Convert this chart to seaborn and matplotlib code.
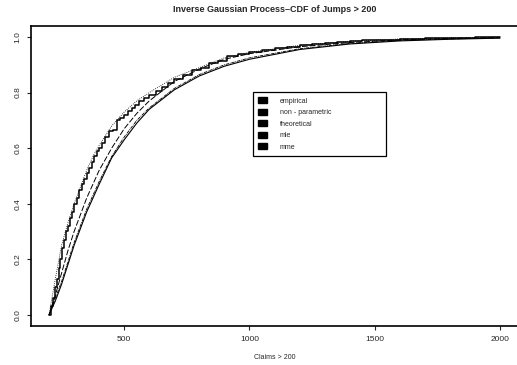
import numpy as np
import pandas as pd
import matplotlib
matplotlib.use("Agg")
import matplotlib.pyplot as plt
import seaborn as sns
from matplotlib.patches import Patch

# empirical CDF of claims > 200 (step function)
emp_x = [200, 208, 215, 223, 230, 238, 245, 252, 260, 268, 275, 283, 290, 300, 310, 320,
         330, 340, 350, 360, 370, 380, 390, 400, 410, 425, 440, 455, 470, 485, 500, 515,
         530, 545, 560, 580, 600, 625, 650, 675, 700, 735, 770, 805, 840, 875, 910, 955,
         1000, 1050, 1100, 1150, 1200, 1250, 1300, 1350, 1400, 1450, 1500, 1600, 1700,
         1800, 1900, 2000]
emp_y = [0.0, 0.03, 0.06, 0.10, 0.13, 0.17, 0.20, 0.24, 0.27, 0.30, 0.32, 0.35, 0.37, 0.40, 0.42, 0.45,
         0.47, 0.49, 0.51, 0.53, 0.55, 0.57, 0.59, 0.60, 0.62, 0.64, 0.66, 0.665, 0.70, 0.71, 0.72, 0.735,
         0.745, 0.755, 0.77, 0.78, 0.79, 0.805, 0.82, 0.835, 0.85, 0.865, 0.88, 0.89, 0.905, 0.915, 0.93, 0.938,
         0.945, 0.952, 0.96, 0.965, 0.97, 0.974, 0.978, 0.982, 0.985, 0.988, 0.99, 0.993, 0.996,
         0.998, 0.999, 1.0]

# smooth curves
grid_x = [200, 225, 250, 275, 300, 325, 350, 375, 400, 450, 500, 550, 600, 700, 800, 900,
          1000, 1200, 1400, 1600, 1800, 2000]
nonpar_y = [0.0, 0.13, 0.25, 0.33, 0.40, 0.46, 0.52, 0.57, 0.61, 0.68, 0.73, 0.77, 0.80, 0.855, 0.89, 0.925,
            0.945, 0.97, 0.985, 0.993, 0.997, 1.0]
theo_y = [0.0, 0.07, 0.15, 0.23, 0.30, 0.36, 0.42, 0.47, 0.52, 0.60, 0.67, 0.725, 0.77, 0.84, 0.885, 0.92,
          0.94, 0.965, 0.98, 0.99, 0.995, 0.998]
mle_y = [0.0, 0.05, 0.11, 0.18, 0.25, 0.31, 0.37, 0.42, 0.47, 0.565, 0.63, 0.69, 0.74, 0.81, 0.86, 0.895,
         0.92, 0.955, 0.975, 0.986, 0.992, 0.996]
mme_y = [0.0, 0.06, 0.12, 0.19, 0.26, 0.32, 0.38, 0.43, 0.48, 0.57, 0.64, 0.70, 0.745, 0.815, 0.865, 0.90,
         0.925, 0.958, 0.977, 0.988, 0.993, 0.997]

legend_labels = ["empirical", "non - parametric", "theoretical", "mle", "mme"]

sns.set_style("ticks")
plt.rcParams['font.family'] = ['Liberation Sans', 'DejaVu Sans']

fig = plt.figure(figsize=(5.17, 3.65), dpi=100)
ax = fig.add_axes([0.060, 0.107, 0.942, 0.822])

sns.lineplot(x=emp_x, y=emp_y, ax=ax, color="black", lw=1.1, drawstyle="steps-post")
sns.lineplot(x=grid_x, y=nonpar_y, ax=ax, color="black", lw=0.6, linestyle=(0, (1, 1.5)))
sns.lineplot(x=grid_x, y=theo_y, ax=ax, color="black", lw=0.7, linestyle=(0, (6, 2)))
sns.lineplot(x=grid_x, y=mle_y, ax=ax, color="black", lw=0.8)
sns.lineplot(x=grid_x, y=mme_y, ax=ax, color="black", lw=0.6, linestyle=(0, (4, 1, 1, 1)))

ax.set_xlim(128, 2072)
ax.set_ylim(-0.04, 1.04)
ax.set_xticks([500, 1000, 1500, 2000])
ax.set_yticks([0.0, 0.2, 0.4, 0.6, 0.8, 1.0])
ax.set_yticklabels(["0.0", "0.2", "0.4", "0.6", "0.8", "1.0"], rotation=90, va="center")
ax.tick_params(labelsize=6, length=3, width=0.8, pad=4)
for sp in ax.spines.values():
    sp.set_visible(True)
    sp.set_linewidth(1.2)
    sp.set_color("black")

ax.set_xlabel("Claims > 200", fontsize=5, labelpad=8)
ax.set_ylabel("")
ax.set_title("Inverse Gaussian Process\u2013CDF of Jumps > 200", fontsize=6.5,
             fontweight="bold", pad=10)

handles = [Patch(facecolor="black", edgecolor="black") for _ in legend_labels]
leg = ax.legend(handles, legend_labels, loc="upper left",
                bbox_to_anchor=(0.455, 0.57, 0.273, 0.21), mode="expand",
                fontsize=5, frameon=True, fancybox=False, edgecolor="black",
                framealpha=1, handlelength=1.3, handleheight=0.9,
                labelspacing=0.6, borderpad=0.8, handletextpad=1.8,
                borderaxespad=0)
leg.get_frame().set_linewidth(0.9)

fig.savefig("out.png", dpi=100)
